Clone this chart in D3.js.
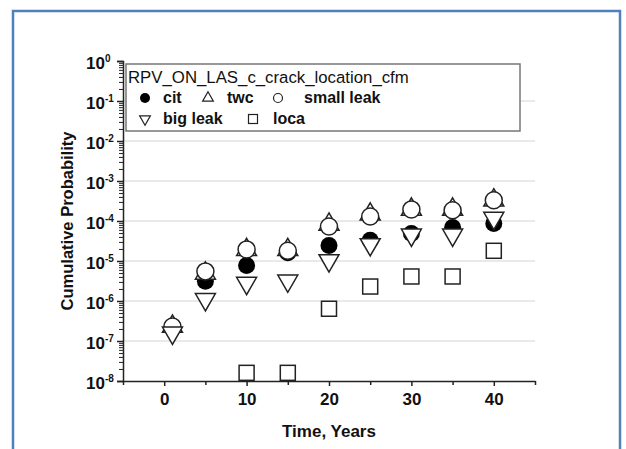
<!DOCTYPE html>
<html>
<head>
<meta charset="utf-8">
<script src="https://cdn.jsdelivr.net/npm/d3@7"></script>
<style>
  body { margin: 0; background: #fff; }
  text { font-family: "Liberation Sans", Arial, sans-serif; fill: #111; }
</style>
</head>
<body>
<div id="chart"></div>
<script>
// data
var years = [1, 5, 10, 15, 20, 25, 30, 35, 40];
var cit = [2.3e-7, 3.1e-6, 7.7e-6, 1.6e-5, 2.45e-5, 3.3e-5, 4.9e-5, 6.9e-5, 8.7e-5];
var twc = [2.3e-7, 4.9e-6, 1.9e-5, 1.9e-5, 8.2e-5, 1.47e-4, 1.95e-4, 1.95e-4, 3.3e-4];
var smallLeak = [2.3e-7, 5.5e-6, 1.95e-5, 1.8e-5, 7.3e-5, 1.3e-4, 1.95e-4, 1.85e-4, 3.3e-4];
var bigLeak = [1.6e-7, 1.1e-6, 2.8e-6, 3.2e-6, 1.03e-5, 2.6e-5, 4.5e-5, 4.5e-5, 1.18e-4];
var loca = [null, null, 1.6e-8, 1.6e-8, 6.4e-7, 2.3e-6, 4.1e-6, 4.1e-6, 1.8e-5];
var xTicks = [0, 10, 20, 30, 40];
var xMinor = [-5, 5, 15, 25, 35, 45];
var yExps = [0, -1, -2, -3, -4, -5, -6, -7, -8];
var legendTitle = "RPV_ON_LAS_c_crack_location_cfm";

var W = 626, H = 449;
var svg = d3.select("#chart").append("svg")
    .attr("width", W)
    .attr("height", H);

// blue frame
svg.append("rect")
    .attr("x", 13).attr("y", 11)
    .attr("width", 607).attr("height", 470)
    .attr("fill", "none")
    .attr("stroke", "#4f81bd")
    .attr("stroke-width", 2.5);

var x = d3.scaleLinear().domain([-5, 45]).range([123, 535]);
var y = d3.scaleLog().domain([1e-8, 1]).range([381, 61]);

// grid lines at decades
svg.append("g").selectAll("line")
    .data(yExps.filter(function(e) { return e < 0 && e > -8; }))
    .enter().append("line")
    .attr("x1", x(-5)).attr("x2", x(45))
    .attr("y1", function(e) { return y(Math.pow(10, e)); })
    .attr("y2", function(e) { return y(Math.pow(10, e)); })
    .attr("stroke", "#e2e2e2")
    .attr("stroke-width", 1.5);

// minor y ticks
var minorVals = [];
for (var e = -8; e < 0; e++) {
  for (var m = 2; m <= 9; m++) minorVals.push(m * Math.pow(10, e));
}
svg.append("g")
    .attr("transform", "translate(" + x(-5) + ",0)")
    .call(d3.axisLeft(y).tickValues(minorVals).tickSize(4).tickFormat(""))
    .call(function(g) { g.select(".domain").remove(); })
    .selectAll("line").attr("stroke", "#222").attr("stroke-width", 1);

// major y axis
var yAxis = svg.append("g")
    .attr("transform", "translate(" + x(-5) + ",0)")
    .call(d3.axisLeft(y)
      .tickValues(yExps.map(function(e) { return Math.pow(10, e); }))
      .tickSize(6).tickPadding(9)
      .tickFormat(function() { return "10"; }));
yAxis.select(".domain").attr("stroke", "#222").attr("stroke-width", 1.5);
yAxis.selectAll(".tick line").attr("stroke", "#222").attr("stroke-width", 1.5);
yAxis.selectAll(".tick text")
    .attr("font-size", 17).attr("font-weight", "bold")
    .style("font-family", "Liberation Sans, Arial, sans-serif")
    .attr("fill", "#111")
    .each(function(d) {
      var t = d3.select(this);
      t.attr("text-anchor", "start").attr("x", -37).attr("dy", "0.42em");
      t.append("tspan")
        .attr("dy", "-0.7em")
        .attr("font-size", 10)
        .text(Math.round(Math.log10(d)));
    });

// x axis
svg.append("g")
    .attr("transform", "translate(0," + y(1e-8) + ")")
    .call(d3.axisBottom(x).tickValues(xMinor).tickSize(4).tickFormat(""))
    .call(function(g) { g.select(".domain").remove(); })
    .selectAll("line").attr("stroke", "#222").attr("stroke-width", 1.5);

var xAxis = svg.append("g")
    .attr("transform", "translate(0," + y(1e-8) + ")")
    .call(d3.axisBottom(x).tickValues(xTicks).tickSize(5).tickPadding(7).tickSizeOuter(0));
xAxis.select(".domain").attr("stroke", "#222").attr("stroke-width", 1.5);
xAxis.selectAll(".tick line").attr("stroke", "#222").attr("stroke-width", 1.5);
xAxis.selectAll(".tick text")
    .attr("font-size", 17).attr("font-weight", "bold")
    .style("font-family", "Liberation Sans, Arial, sans-serif")
    .attr("fill", "#111");

// axis titles
svg.append("text")
    .attr("x", 329).attr("y", 437)
    .attr("text-anchor", "middle")
    .attr("font-size", 17).attr("font-weight", "bold")
    .text("Time, Years");

svg.append("text")
    .attr("transform", "translate(73,221) rotate(-90)")
    .attr("text-anchor", "middle")
    .attr("font-size", 16.5).attr("font-weight", "bold")
    .text("Cumulative Probability");

// marker shapes
var triUp = d3.symbol().type(d3.symbolTriangle).size(173);
var circ = d3.symbol().type(d3.symbolCircle).size(227);

function pts(vals) {
  return years.map(function(t, i) { return {t: t, v: vals[i]}; })
    .filter(function(d) { return d.v != null; });
}

var plot = svg.append("g");

plot.selectAll(".cit").data(pts(cit)).enter().append("path")
    .attr("d", circ)
    .attr("transform", function(d) { return "translate(" + x(d.t) + "," + y(d.v) + ")"; })
    .attr("fill", "#000");

plot.selectAll(".twc").data(pts(twc)).enter().append("path")
    .attr("d", triUp)
    .attr("transform", function(d) { return "translate(" + x(d.t) + "," + y(d.v) + ")"; })
    .attr("fill", "#fff").attr("stroke", "#222").attr("stroke-width", 1.5);

plot.selectAll(".small").data(pts(smallLeak)).enter().append("path")
    .attr("d", circ)
    .attr("transform", function(d) { return "translate(" + x(d.t) + "," + y(d.v) + ")"; })
    .attr("fill", "#fff").attr("stroke", "#222").attr("stroke-width", 1.5);

plot.selectAll(".big").data(pts(bigLeak)).enter().append("path")
    .attr("d", triUp)
    .attr("transform", function(d) { return "translate(" + x(d.t) + "," + y(d.v) + ") rotate(180)"; })
    .attr("fill", "#fff").attr("stroke", "#222").attr("stroke-width", 1.5);

plot.selectAll(".loca").data(pts(loca)).enter().append("rect")
    .attr("x", function(d) { return x(d.t) - 7.5; })
    .attr("y", function(d) { return y(d.v) - 7.5; })
    .attr("width", 15).attr("height", 15)
    .attr("fill", "#fff").attr("stroke", "#222").attr("stroke-width", 1.5);

// legend
var lg = svg.append("g");
lg.append("rect")
    .attr("x", 126).attr("y", 64)
    .attr("width", 394).attr("height", 67)
    .attr("fill", "#fff")
    .attr("stroke", "#777").attr("stroke-width", 1.5);
lg.append("text")
    .attr("x", 128).attr("y", 83)
    .attr("font-size", 16.8)
    .text(legendTitle);

var entries = [
  {name: "cit", sym: "fcirc", sx: 145, tx: 163, row: 0},
  {name: "twc", sym: "up", sx: 208, tx: 227, row: 0},
  {name: "small leak", sym: "circ", sx: 278, tx: 304, row: 0},
  {name: "big leak", sym: "down", sx: 145, tx: 163, row: 1},
  {name: "loca", sym: "sq", sx: 253, tx: 273, row: 1}
];
var rowY = [103, 124];
entries.forEach(function(en) {
  var cy = rowY[en.row] - 5;
  if (en.sym == "fcirc") {
    lg.append("circle").attr("cx", en.sx).attr("cy", cy).attr("r", 5).attr("fill", "#000");
  } else if (en.sym == "circ") {
    lg.append("circle").attr("cx", en.sx).attr("cy", cy).attr("r", 4.5)
      .attr("fill", "none").attr("stroke", "#222").attr("stroke-width", 1.2);
  } else if (en.sym == "up" || en.sym == "down") {
    lg.append("path")
      .attr("d", d3.symbol().type(d3.symbolTriangle).size(50))
      .attr("transform", "translate(" + en.sx + "," + cy + ")" + (en.sym == "down" ? " rotate(180)" : ""))
      .attr("fill", "none").attr("stroke", "#222").attr("stroke-width", 1.2);
  } else {
    lg.append("rect").attr("x", en.sx - 4.5).attr("y", cy - 4.5)
      .attr("width", 9).attr("height", 9)
      .attr("fill", "none").attr("stroke", "#222").attr("stroke-width", 1.2);
  }
  lg.append("text")
    .attr("x", en.tx).attr("y", rowY[en.row])
    .attr("font-size", 16).attr("font-weight", "bold")
    .text(en.name);
});
</script>
</body>
</html>
